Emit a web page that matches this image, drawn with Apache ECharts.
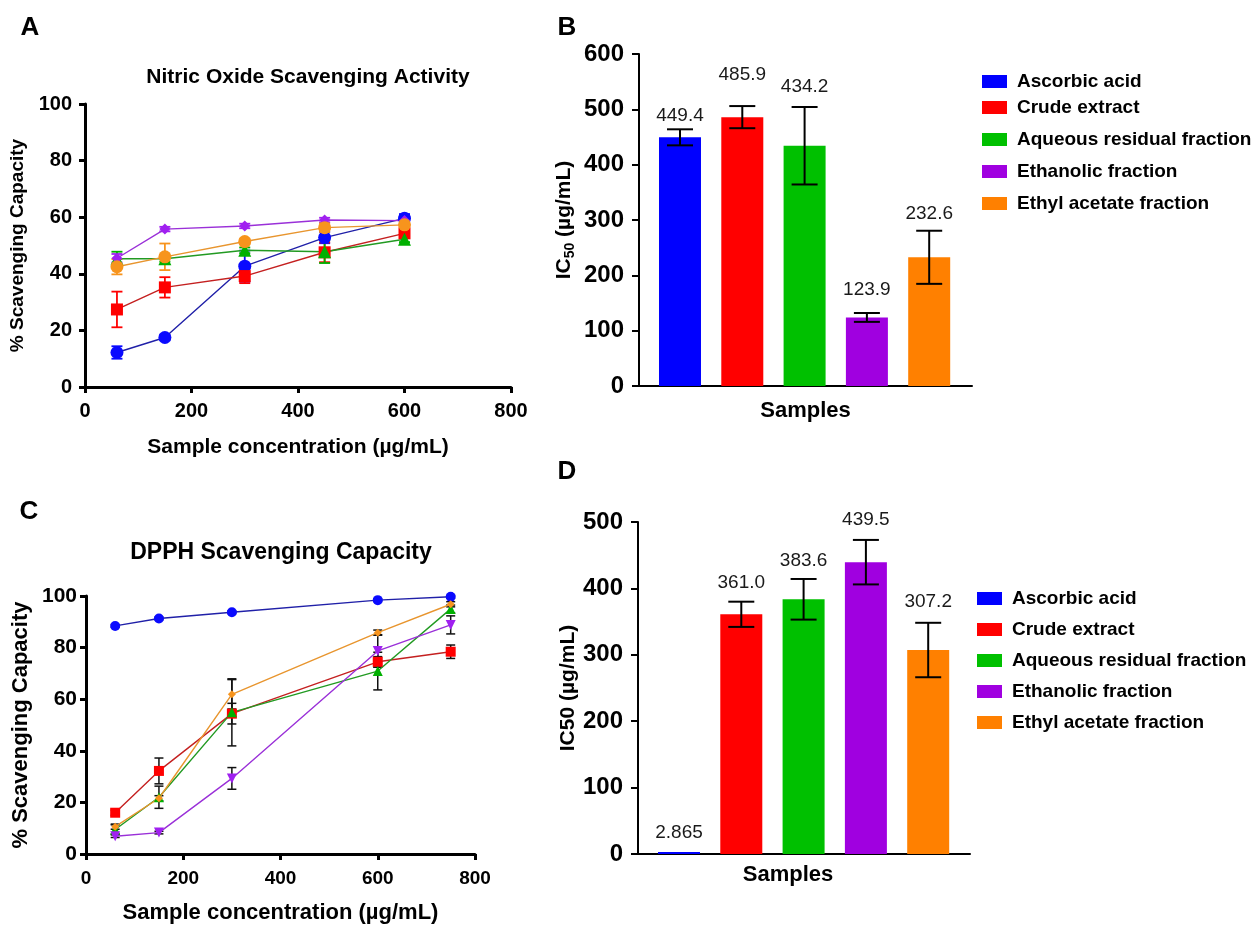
<!DOCTYPE html>
<html>
<head>
<meta charset="utf-8">
<script src="https://cdn.jsdelivr.net/npm/echarts@6/dist/echarts.min.js"></script>
<style>
html,body{margin:0;padding:0;background:#fff;}
#chart{width:1255px;height:925px;}
</style>
</head>
<body>
<div id="chart"></div>
<script>
// ---------- DATA ----------
const sampleNames = ['Ascorbic acid', 'Crude extract', 'Aqueous residual fraction', 'Ethanolic fraction', 'Ethyl acetate fraction'];

// Panel A: Nitric oxide scavenging (% vs µg/mL)
const noConc = [60, 150, 300, 450, 600];
const noAscorbic = [12.2, 17.5, 42.7, 52.8, 59.6];
const noAscorbicSd = [2.2, 1.0, 5.5, 2.0, 1.5];
const noCrude = [27.4, 35.2, 39.2, 47.6, 54.3];
const noCrudeSd = [6.3, 3.6, 2.5, 3.5, 1.5];
const noAqueous = [45.3, 45.3, 48.3, 47.8, 52.2];
const noAqueousSd = [2.5, 1.0, 1.0, 4.0, 1.0];
const noEthanolic = [45.5, 55.8, 56.9, 59.0, 58.8];
const noEthanolicSd = [1.5, 0.8, 0.8, 0.8, 0.8];
const noEthyl = [42.5, 46.0, 51.4, 56.3, 57.3];
const noEthylSd = [2.7, 4.7, 1.0, 1.5, 1.0];

// Panel C: DPPH scavenging (% vs µg/mL)
const dpConc = [60, 150, 300, 600, 750];
const dpAscorbic = [88.4, 91.3, 93.7, 98.4, 99.7];
const dpAscorbicSd = [0.5, 0.5, 0.5, 0.5, 0.5];
const dpCrude = [16.0, 32.2, 54.4, 74.5, 78.4];
const dpCrudeSd = [1.0, 5.0, 4.0, 2.0, 2.6];
const dpAqueous = [9.5, 22.0, 54.9, 70.9, 95.0];
const dpAqueousSd = [1.8, 4.3, 13.0, 7.3, 1.5];
const dpEthanolic = [6.9, 8.3, 29.3, 78.7, 88.8];
const dpEthanolicSd = [0.5, 0.5, 4.2, 6.3, 3.5];
const dpEthyl = [10.6, 21.6, 61.9, 85.8, 96.8];
const dpEthylSd = [1.0, 1.0, 5.7, 1.0, 1.0];

// Panel B: NO IC50 (µg/mL)
const noIC50 = [449.4, 485.9, 434.2, 123.9, 232.6];
const noIC50Sd = [14.5, 20, 70, 8, 48];
const noIC50Labels = ['449.4', '485.9', '434.2', '123.9', '232.6'];

// Panel D: DPPH IC50 (µg/mL)
const dpIC50 = [2.865, 361.0, 383.6, 439.5, 307.2];
const dpIC50Sd = [0, 19, 30.6, 33.5, 41];
const dpIC50Labels = ['2.865', '361.0', '383.6', '439.5', '307.2'];

// ---------- STYLE ----------
const FONT = "'Liberation Sans', Arial, Helvetica, sans-serif";
const barColors = ['#0000ff', '#ff0000', '#00c000', '#a000e0', '#ff8000'];
const markerColors = ['#0a0aff', '#ff0000', '#00b000', '#a020f0', '#f7941d'];
const lineColors = ['#2020a8', '#c42020', '#229a22', '#9a30d8', '#e8952e'];
const noSymbols = ['circle', 'rect', 'triangle', 'diamond', 'circle'];
const noSymbolSizes = [13, 12, 13, 11, 13];
const dpSymbols = ['circle', 'rect', 'triangle', 'triangle', 'diamond'];
const dpSymbolRot = [0, 0, 0, 180, 0];
const dpSymbolSizes = [10, 10, 10, 10, 8];
const bLabelLift = [14, 31, 20, 23, 17];
const dLabelLift = [19, 19, 18, 20, 21];

const noMeans = [noAscorbic, noCrude, noAqueous, noEthanolic, noEthyl];
const noSds = [noAscorbicSd, noCrudeSd, noAqueousSd, noEthanolicSd, noEthylSd];
const dpMeans = [dpAscorbic, dpCrude, dpAqueous, dpEthanolic, dpEthyl];
const dpSds = [dpAscorbicSd, dpCrudeSd, dpAqueousSd, dpEthanolicSd, dpEthylSd];

const chart = echarts.init(document.getElementById('chart'), null, {renderer: 'canvas'});

function errRender(color, capW, lw) {
  return function (params, api) {
    const x = api.value(0), v = api.value(1), e = api.value(2);
    const t = api.coord([x, v + e]), b = api.coord([x, v - e]);
    const hw = capW / 2;
    const st = {stroke: color, lineWidth: lw};
    return {type: 'group', children: [
      {type: 'line', shape: {x1: t[0], y1: t[1], x2: b[0], y2: b[1]}, style: st},
      {type: 'line', shape: {x1: t[0] - hw, y1: t[1], x2: t[0] + hw, y2: t[1]}, style: st},
      {type: 'line', shape: {x1: b[0] - hw, y1: b[1], x2: b[0] + hw, y2: b[1]}, style: st}
    ]};
  };
}

function barErrRender(labels, lift) {
  return function (params, api) {
    const i = params.dataIndex;
    const x = api.value(0), v = api.value(1), e = api.value(2);
    const t = api.coord([x, v + e]), b = api.coord([x, v - e]);
    const hw = 13;
    const st = {stroke: '#000', lineWidth: 2};
    const children = [];
    if (e > 0) {
      children.push({type: 'line', shape: {x1: t[0], y1: t[1], x2: b[0], y2: b[1]}, style: st});
      children.push({type: 'line', shape: {x1: t[0] - hw, y1: t[1], x2: t[0] + hw, y2: t[1]}, style: st});
      children.push({type: 'line', shape: {x1: b[0] - hw, y1: b[1], x2: b[0] + hw, y2: b[1]}, style: st});
    }
    children.push({type: 'text', x: t[0], y: t[1] - lift[i],
      style: {text: labels[i], fill: '#1a1a1a', font: '19px ' + FONT, align: 'center', verticalAlign: 'middle'}});
    return {type: 'group', children: children};
  };
}

const axisTxt = {color: '#000', fontWeight: 'bold', fontFamily: FONT};

const grids = [
  {left: 85, top: 104, width: 426, height: 283},   // A
  {left: 639, top: 54, width: 333, height: 332},   // B
  {left: 86, top: 596, width: 389, height: 258},   // C
  {left: 638, top: 522, width: 332, height: 332}   // D
];

const xAxes = [
  {gridIndex: 0, type: 'value', min: 0, max: 800, interval: 200,
   axisLine: {show: true, lineStyle: {color: '#000', width: 3}},
   axisTick: {show: true, length: 6, lineStyle: {color: '#000', width: 3}},
   axisLabel: Object.assign({fontSize: 20, margin: 14}, axisTxt),
   splitLine: {show: false},
   name: 'Sample concentration (µg/mL)', nameLocation: 'middle', nameGap: 50,
   nameTextStyle: Object.assign({fontSize: 21}, axisTxt)},
  {gridIndex: 1, type: 'value', min: -0.658, max: 4.687,
   axisLine: {show: true, onZero: false, lineStyle: {color: '#000', width: 2}},
   axisTick: {show: false}, axisLabel: {show: false}, splitLine: {show: false},
   name: 'Samples', nameLocation: 'middle', nameGap: 14,
   nameTextStyle: Object.assign({fontSize: 22, verticalAlign: 'top'}, axisTxt)},
  {gridIndex: 2, type: 'value', min: 0, max: 800, interval: 200,
   axisLine: {show: true, lineStyle: {color: '#000', width: 3}},
   axisTick: {show: true, length: 6, lineStyle: {color: '#000', width: 3}},
   axisLabel: Object.assign({fontSize: 19, margin: 15}, axisTxt),
   splitLine: {show: false},
   name: 'Sample concentration (µg/mL)', nameLocation: 'middle', nameGap: 48,
   nameTextStyle: Object.assign({fontSize: 22}, axisTxt)},
  {gridIndex: 3, type: 'value', min: -0.658, max: 4.671,
   axisLine: {show: true, onZero: false, lineStyle: {color: '#000', width: 2}},
   axisTick: {show: false}, axisLabel: {show: false}, splitLine: {show: false},
   name: 'Samples', nameLocation: 'middle', nameGap: 10,
   nameTextStyle: Object.assign({fontSize: 22, verticalAlign: 'top', padding: [0, 32, 0, 0]}, axisTxt)}
];

const yAxes = [
  {gridIndex: 0, type: 'value', min: 0, max: 100, interval: 20,
   axisLine: {show: true, lineStyle: {color: '#000', width: 3}},
   axisTick: {show: true, length: 6, lineStyle: {color: '#000', width: 3}},
   axisLabel: Object.assign({fontSize: 20, margin: 13}, axisTxt),
   splitLine: {show: false},
   name: '% Scavenging Capacity', nameLocation: 'middle', nameGap: 58,
   nameTextStyle: Object.assign({fontSize: 19}, axisTxt)},
  {gridIndex: 1, type: 'value', min: 0, max: 600, interval: 100,
   axisLine: {show: true, onZero: false, lineStyle: {color: '#000', width: 2}},
   axisTick: {show: true, length: 7, lineStyle: {color: '#000', width: 2}},
   axisLabel: Object.assign({fontSize: 24, margin: 15}, axisTxt),
   splitLine: {show: false},
   name: '{a|IC}{s|50}{a| (µg/mL)}', nameLocation: 'middle', nameGap: 62,
   nameTextStyle: {rich: {
     a: {fontSize: 21, fontWeight: 'bold', color: '#000', fontFamily: FONT, lineHeight: 26},
     s: {fontSize: 14, fontWeight: 'bold', color: '#000', fontFamily: FONT, lineHeight: 26, verticalAlign: 'bottom', padding: [8, 0, 0, 0]}
   }}},
  {gridIndex: 2, type: 'value', min: 0, max: 100, interval: 20,
   axisLine: {show: true, lineStyle: {color: '#000', width: 3}},
   axisTick: {show: true, length: 6, lineStyle: {color: '#000', width: 3}},
   axisLabel: Object.assign({fontSize: 21, margin: 9}, axisTxt),
   splitLine: {show: false},
   name: '% Scavenging Capacity', nameLocation: 'middle', nameGap: 54,
   nameTextStyle: Object.assign({fontSize: 22}, axisTxt)},
  {gridIndex: 3, type: 'value', min: 0, max: 500, interval: 100,
   axisLine: {show: true, onZero: false, lineStyle: {color: '#000', width: 2}},
   axisTick: {show: true, length: 7, lineStyle: {color: '#000', width: 2}},
   axisLabel: Object.assign({fontSize: 24, margin: 15}, axisTxt),
   splitLine: {show: false},
   name: 'IC50 (µg/mL)', nameLocation: 'middle', nameGap: 58,
   nameTextStyle: Object.assign({fontSize: 21}, axisTxt)}
];

const series = [];

// Bars B and D (first so legend picks them)
sampleNames.forEach(function (nm, i) {
  series.push({type: 'bar', name: nm, xAxisIndex: 1, yAxisIndex: 1, barWidth: 42, barGap: '-100%',
    itemStyle: {color: barColors[i]}, data: [[i, noIC50[i]]], z: 2});
});
sampleNames.forEach(function (nm, i) {
  series.push({type: 'bar', name: nm, xAxisIndex: 3, yAxisIndex: 3, barWidth: 42, barGap: '-100%',
    itemStyle: {color: barColors[i]}, data: [[i, dpIC50[i]]], z: 2});
});
series.push({type: 'custom', name: 'B err', xAxisIndex: 1, yAxisIndex: 1, z: 5,
  renderItem: barErrRender(noIC50Labels, bLabelLift),
  data: noIC50.map(function (v, i) { return [i, v, noIC50Sd[i]]; }), encode: {x: 0, y: 1}});
series.push({type: 'custom', name: 'D err', xAxisIndex: 3, yAxisIndex: 3, z: 5,
  renderItem: barErrRender(dpIC50Labels, dLabelLift),
  data: dpIC50.map(function (v, i) { return [i, v, dpIC50Sd[i]]; }), encode: {x: 0, y: 1}});

// Panel A lines
noMeans.forEach(function (arr, k) {
  series.push({type: 'custom', name: 'A err ' + k, xAxisIndex: 0, yAxisIndex: 0, z: 2,
    renderItem: errRender(markerColors[k], 11, 1.8),
    data: arr.map(function (v, j) { return [noConc[j], v, noSds[k][j]]; }), encode: {x: 0, y: 1}});
  series.push({type: 'line', name: 'A ' + sampleNames[k], xAxisIndex: 0, yAxisIndex: 0, z: 3,
    symbol: noSymbols[k], symbolSize: noSymbolSizes[k], showSymbol: true,
    itemStyle: {color: markerColors[k]}, lineStyle: {color: lineColors[k], width: 1.4},
    data: arr.map(function (v, j) { return [noConc[j], v]; })});
});

// Panel C lines
dpMeans.forEach(function (arr, k) {
  series.push({type: 'custom', name: 'C err ' + k, xAxisIndex: 2, yAxisIndex: 2, z: 2,
    renderItem: errRender('#111', 9, 1.5),
    data: arr.map(function (v, j) { return [dpConc[j], v, dpSds[k][j]]; }), encode: {x: 0, y: 1}});
  series.push({type: 'line', name: 'C ' + sampleNames[k], xAxisIndex: 2, yAxisIndex: 2, z: 3,
    symbol: dpSymbols[k], symbolRotate: dpSymbolRot[k], symbolSize: dpSymbolSizes[k], showSymbol: true,
    itemStyle: {color: markerColors[k]}, lineStyle: {color: lineColors[k], width: 1.4},
    data: arr.map(function (v, j) { return [dpConc[j], v]; })});
});

const legendBase = {orient: 'vertical', icon: 'rect', itemWidth: 25, itemHeight: 13, selectedMode: false,
  textStyle: {fontSize: 19, fontWeight: 'bold', color: '#000', fontFamily: FONT, padding: [0, 0, 0, 5]}};

const option = {
  animation: false,
  backgroundColor: '#fff',
  textStyle: {fontFamily: FONT},
  grid: grids,
  xAxis: xAxes,
  yAxis: yAxes,
  legend: [
    Object.assign({}, legendBase, {left: 977, top: 67, itemGap: 13, data: sampleNames.slice(0, 1)}),
    Object.assign({}, legendBase, {left: 977, top: 93, itemGap: 13, data: sampleNames.slice(1)}),
    Object.assign({}, legendBase, {left: 972, top: 584, itemGap: 12, data: sampleNames})
  ],
  graphic: [
    {type: 'text', x: 30, y: 28, style: {text: 'A', font: 'bold 26px ' + FONT, fill: '#000', align: 'center', verticalAlign: 'middle'}},
    {type: 'text', x: 567, y: 28, style: {text: 'B', font: 'bold 26px ' + FONT, fill: '#000', align: 'center', verticalAlign: 'middle'}},
    {type: 'text', x: 29, y: 512, style: {text: 'C', font: 'bold 26px ' + FONT, fill: '#000', align: 'center', verticalAlign: 'middle'}},
    {type: 'text', x: 567, y: 472, style: {text: 'D', font: 'bold 26px ' + FONT, fill: '#000', align: 'center', verticalAlign: 'middle'}},
    {type: 'text', x: 308, y: 77, style: {text: 'Nitric Oxide Scavenging Activity', font: 'bold 21px ' + FONT, fill: '#000', align: 'center', verticalAlign: 'middle'}},
    {type: 'text', x: 281, y: 553, style: {text: 'DPPH Scavenging Capacity', font: 'bold 23px ' + FONT, fill: '#000', align: 'center', verticalAlign: 'middle'}}
  ],
  series: series
};

chart.setOption(option);
</script>
</body>
</html>
